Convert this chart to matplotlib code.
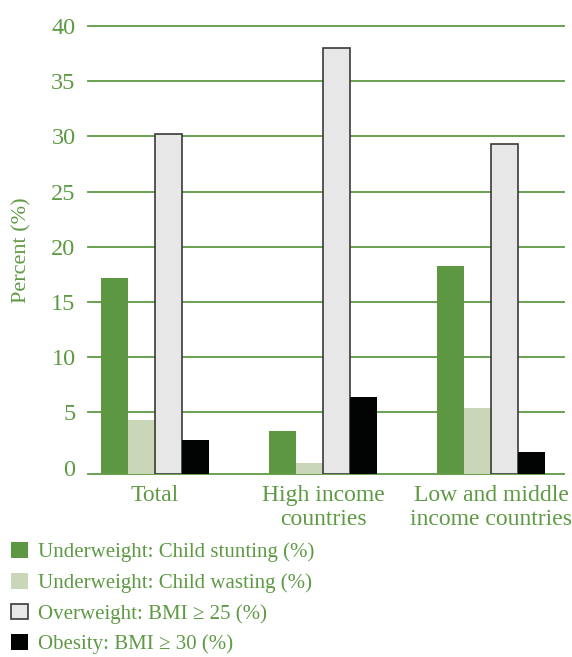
import matplotlib
matplotlib.use('Agg')
import matplotlib.pyplot as plt
import numpy as np

# Data
groups = ['Total', 'High income\ncountries', 'Low and middle\nincome countries']
series = ['Underweight: Child stunting (%)',
          'Underweight: Child wasting (%)',
          'Overweight: BMI \u2265 25 (%)',
          'Obesity: BMI \u2265 30 (%)']
stunting = [17.2, 3.3, 18.3]
wasting = [4.3, 0.4, 5.4]
overweight = [30.2, 38.0, 29.3]
obesity = [2.5, 6.4, 1.4]

green = '#5e9a44'
fills = ['#5e9741', '#c9d6b8', '#e6e7e6', '#020303']
edges = ['#5e9741', '#c9d6b8', '#3a3a3a', '#020303']

plt.rcParams['font.family'] = ['Liberation Serif', 'DejaVu Sans']

fig = plt.figure(figsize=(5.72, 6.57), dpi=100)
ax = fig.add_axes([88/572, 1-474/657, (564-88)/572, (474-26)/657])

# bars start at the bottom axis line, which sits a little under zero
y0 = -0.57
x = np.arange(len(groups))
w = 0.16
for i, vals in enumerate([stunting, wasting, overweight, obesity]):
    v = np.array(vals)
    ax.bar(x + (i - 1.5)*w, v - y0, bottom=y0, width=w, color=fills[i],
           edgecolor=edges[i], linewidth=1.2 if i == 2 else 0,
           label=series[i], zorder=3)

ax.set_ylim(y0, 40)
ax.set_xlim(-0.4, 2.435)
ticks = list(range(0, 41, 5))
ax.set_yticks(ticks)
ax.set_yticklabels([str(t) for t in ticks])
ax.set_xticks(x)
ax.set_xticklabels(groups, linespacing=1.2)
ax.set_axisbelow(True)
for t in ticks[1:]:
    ax.axhline(t, color=green, linewidth=1.3, zorder=0, clip_on=False)
for s in ['top', 'right', 'left']:
    ax.spines[s].set_visible(False)
ax.spines['bottom'].set_color(green)
ax.spines['bottom'].set_linewidth(1.3)
ax.tick_params(axis='both', length=0, colors=green)
ax.tick_params(axis='y', pad=9, labelsize=17.5)
ax.tick_params(axis='x', pad=8, labelsize=17)
for t in ax.get_yticklabels() + ax.get_xticklabels():
    t.set_color(green)

fig.text(22/572, 1-250/657, 'Percent (%)', rotation=90, color=green,
         fontsize=16, ha='center', va='center')

leg = fig.legend(loc='upper left', bbox_to_anchor=(5/572, 1-536/657),
                 frameon=False, fontsize=15, handlelength=0.8,
                 handleheight=0.8, handletextpad=0.5, labelspacing=0.5,
                 borderaxespad=0, borderpad=0.3)
for t in leg.get_texts():
    t.set_color(green)

fig.savefig('out.png', dpi=100)
